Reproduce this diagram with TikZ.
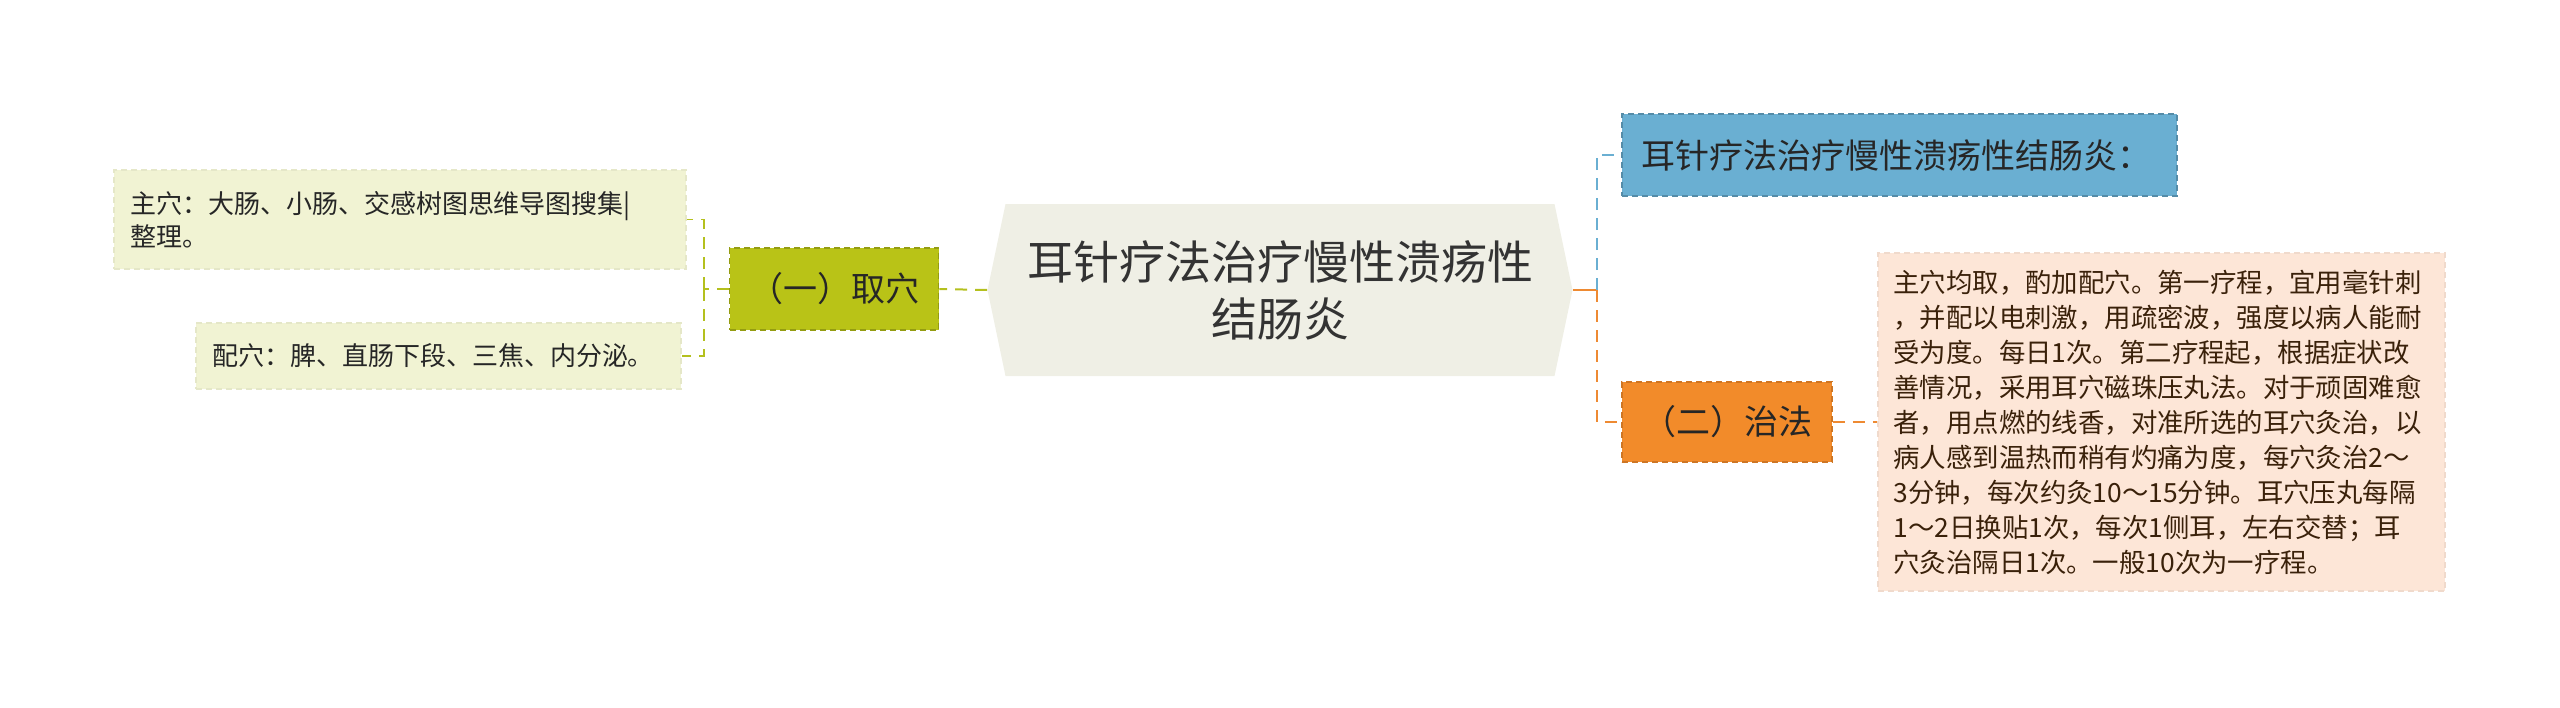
\documentclass[tikz,border=0pt]{standalone}
\usepackage{fontspec}
\setmainfont{Noto Sans CJK SC}
\usetikzlibrary{positioning}

\definecolor{mainfill}{HTML}{EFEFE5}
\definecolor{quofill}{HTML}{B9C317}
\definecolor{leaffill}{HTML}{F1F3D3}
\definecolor{bluefill}{HTML}{6AAFD2}
\definecolor{orangefill}{HTML}{F28B2A}
\definecolor{peachfill}{HTML}{FDE6D7}
\definecolor{olivelink}{HTML}{B4C01E}
\definecolor{bluelink}{HTML}{6AAFD2}
\definecolor{orangelink}{HTML}{EE8A32}

\begin{document}
\begin{tikzpicture}[x=1pt,y=1pt,
  every node/.style={inner sep=0pt, align=center, text=black!85},
  box/.style={draw, dashed, dash pattern=on 3pt off 2pt, line width=0.8pt},
  leafbox/.style={box, draw=leaffill!95!black, fill=leaffill, align=left, inner xsep=8pt, font=\fontsize{13}{16.5}\selectfont},
  linkline/.style={line width=1pt, dash pattern=on 6pt off 4pt}]
\useasboundingbox (0,0) rectangle (1280,-353.5);
% centre topic
\node[minimum width=292.5pt, minimum height=86pt, font=\fontsize{23}{28.5}\selectfont, text=black!80,
  path picture={\fill[mainfill] ([xshift=9pt]path picture bounding box.north west) -- ([xshift=-9pt]path picture bounding box.north east)
  -- (path picture bounding box.east) -- ([xshift=-9pt]path picture bounding box.south east)
  -- ([xshift=9pt]path picture bounding box.south west) -- (path picture bounding box.west) -- cycle;}]
  (topic) at (640,-145) {耳针疗法治疗慢性溃疡性\\结肠炎};
% left branch
\node[box, draw=quofill!80!black, fill=quofill, minimum width=104.5pt, minimum height=41pt, font=\fontsize{17}{20}\selectfont]
  (quxue) at (417,-144.5) {（一）取穴};
\node[leafbox, minimum width=286pt, minimum height=49.5pt, text width=270pt] (zhuxue) at (200,-109.75)
  {主穴：大肠、小肠、交感树图思维导图搜集|\\整理。};
\node[leafbox, minimum width=242.5pt, minimum height=33pt, text width=226.5pt] (peixue) at (219.25,-178)
  {配穴：脾、直肠下段、三焦、内分泌。};
% right branch
\node[box, draw=bluefill!80!black, fill=bluefill, minimum width=277.5pt, minimum height=41pt, text width=258.5pt, align=left,
  font=\fontsize{17}{20}\selectfont] (biaoti) at (949.75,-77.5) {耳针疗法治疗慢性溃疡性结肠炎：};
\node[box, draw=orangefill!85!black, fill=orangefill, minimum width=105pt, minimum height=40pt, font=\fontsize{17}{20}\selectfont]
  (zhifa) at (863.5,-211) {（二）治法};
\node[box, draw=peachfill!95!black, fill=peachfill, minimum width=283.5pt, minimum height=169pt, text width=268pt, align=left,
  text=black!60!orangefill!60!black, font=\fontsize{13.2}{17.5}\selectfont] (xiangqing) at (1080.75,-211)
  {主穴均取，酌加配穴。第一疗程，宜用毫针刺\\
   ，并配以电刺激，用疏密波，强度以病人能耐\\
   受为度。每日1次。第二疗程起，根据症状改\\
   善情况，采用耳穴磁珠压丸法。对于顽固难愈\\
   者，用点燃的线香，对准所选的耳穴灸治，以\\
   病人感到温热而稍有灼痛为度，每穴灸治2～\\
   3分钟，每次约灸10～15分钟。耳穴压丸每隔\\
   1～2日换贴1次，每次1侧耳，左右交替；耳\\
   穴灸治隔日1次。一般10次为一疗程。};
% connectors
\draw[linkline, olivelink] (topic.west) -- (quxue.east);
\draw[linkline, olivelink, line width=0.8pt] (quxue.west) -- ++(-12.5,0) coordinate (leftfork);
\draw[linkline, olivelink, line width=0.8pt] (leftfork) |- (zhuxue.east);
\draw[linkline, olivelink, line width=0.8pt] (leftfork) |- (peixue.east);
\draw[orangelink, line width=1.2pt] (topic.east) -- ++(12,0) coordinate (rightfork);
\draw[linkline, bluelink, line width=1pt] (rightfork) |- (biaoti.west);
\draw[linkline, orangelink, line width=1pt] (rightfork) |- (zhifa.west);
\draw[linkline, orangelink, line width=1pt] (zhifa.east) -- (xiangqing.west);
\end{tikzpicture}
\end{document}
